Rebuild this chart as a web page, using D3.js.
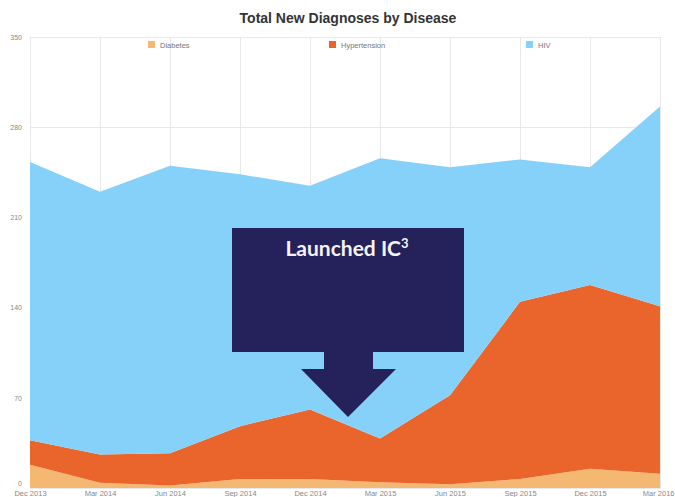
<!DOCTYPE html>
<html>
<head>
<meta charset="utf-8">
<script src="https://cdn.jsdelivr.net/npm/d3@7"></script>
<style>
  html, body { margin: 0; padding: 0; background: #fff; }
  svg { display: block; }
</style>
</head>
<body>
<div id="chart"></div>
<script>
// quarters on the x axis
var quarters = ["Dec 2013", "Mar 2014", "Jun 2014", "Sep 2014", "Dec 2014",
                "Mar 2015", "Jun 2015", "Sep 2015", "Dec 2015", "Mar 2016"];

// new diagnoses per quarter
var diabetes     = [18, 4, 2, 7, 7, 4.5, 3, 7, 15, 11];
var hypertension = [19, 22, 25, 41, 54, 34, 69, 137.5, 142.5, 130];
var hiv          = [216, 204, 223, 195.5, 173.5, 217.5, 177, 110.5, 91.5, 155];

var seriesNames  = ["Diabetes", "Hypertension", "HIV"];
var seriesColors = ["#f4b873", "#e9652b", "#86d1f9"];
var yTicks = [0, 70, 140, 210, 280, 350];

var width = 675, height = 497;
var margin = {top: 37, right: 15, bottom: 9, left: 30};

var svg = d3.select("#chart").append("svg")
  .attr("width", width)
  .attr("height", height);

var rows = quarters.map(function(q, i) {
  return {quarter: q, Diabetes: diabetes[i], Hypertension: hypertension[i], HIV: hiv[i]};
});

var x = d3.scalePoint()
  .domain(quarters)
  .range([margin.left, width - margin.right]);

var y = d3.scaleLinear()
  .domain([0, 350])
  .range([height - margin.bottom, margin.top]);

// title
svg.append("text")
  .attr("x", 348)
  .attr("y", 23)
  .attr("text-anchor", "middle")
  .attr("font-family", "'Liberation Sans', Arial, sans-serif")
  .attr("font-weight", "bold")
  .attr("font-size", 14)
  .attr("fill", "#333")
  .text("Total New Diagnoses by Disease");

// grid
var grid = svg.append("g").attr("stroke", "#e8e8e8").attr("stroke-width", 1);
grid.selectAll(".hgrid").data(yTicks).enter().append("line")
  .attr("x1", margin.left).attr("x2", width - margin.right)
  .attr("y1", function(d) { return Math.round(y(d)) + 0.5; })
  .attr("y2", function(d) { return Math.round(y(d)) + 0.5; });
grid.selectAll(".vgrid").data(quarters).enter().append("line")
  .attr("y1", y(350)).attr("y2", y(0))
  .attr("x1", function(d) { return Math.round(x(d)) + 0.5; })
  .attr("x2", function(d) { return Math.round(x(d)) + 0.5; });

// stacked areas
var stack = d3.stack().keys(seriesNames);
var layers = stack(rows);

var area = d3.area()
  .x(function(d) { return x(d.data.quarter); })
  .y0(function(d) { return y(d[0]); })
  .y1(function(d) { return y(d[1]); });

svg.append("g").selectAll("path")
  .data(layers)
  .enter().append("path")
  .attr("d", area)
  .attr("fill", function(d, i) { return seriesColors[i]; });

// y axis labels
var yAxis = d3.axisLeft(y).tickValues(yTicks).tickSize(0).tickPadding(8);
var gy = svg.append("g")
  .attr("transform", "translate(" + margin.left + ",0)")
  .call(yAxis);
gy.select(".domain").remove();
gy.selectAll("text")
  .attr("font-family", "'Liberation Sans', Arial, sans-serif")
  .attr("font-size", 7)
  .attr("fill", "#888");
gy.selectAll(".tick").filter(function(d) { return d === 0; })
  .select("text").attr("dy", "-0.3em");

// x axis labels
var xAxis = d3.axisBottom(x).tickSize(0).tickPadding(0);
var gx = svg.append("g")
  .attr("transform", "translate(0," + (height - margin.bottom) + ")")
  .call(xAxis);
gx.select(".domain").remove();
gx.selectAll("text")
  .attr("font-family", "'Liberation Sans', Arial, sans-serif")
  .attr("font-size", 7.5)
  .attr("fill", "#888")
  .attr("dy", null)
  .attr("y", 7.5);
gx.selectAll(".tick").filter(function(d, i, n) { return i === n.length - 1; })
  .select("text").attr("text-anchor", "end").attr("x", 14);

// legend
var legendX = [148, 329, 526];
var legend = svg.append("g").selectAll("g")
  .data(seriesNames)
  .enter().append("g")
  .attr("transform", function(d, i) { return "translate(" + legendX[i] + ",41)"; });
legend.append("rect")
  .attr("width", 7).attr("height", 7)
  .attr("fill", function(d, i) { return seriesColors[i]; });
legend.append("text")
  .attr("x", 12).attr("y", 6.5)
  .attr("font-family", "'Liberation Sans', Arial, sans-serif")
  .attr("font-size", 7.5)
  .attr("fill", "#777")
  .text(function(d) { return d; });

// "Launched IC3" arrow callout
var arrow = svg.append("g");
arrow.append("path")
  .attr("d", "M232,228 H464 V352 H373 V369 H396 L348,417 L301,369 H324 V352 H232 Z")
  .attr("fill", "#25215a");
var label = arrow.append("text")
  .attr("x", 347)
  .attr("y", 256)
  .attr("text-anchor", "middle")
  .attr("font-family", "Lato, 'Open Sans', sans-serif")
  .attr("font-weight", "bold")
  .attr("font-size", 21)
  .attr("fill", "#f4f4f8");
label.append("tspan").text("Launched IC");
label.append("tspan").attr("font-size", 13).attr("dy", -8).text("3");
</script>
</body>
</html>
